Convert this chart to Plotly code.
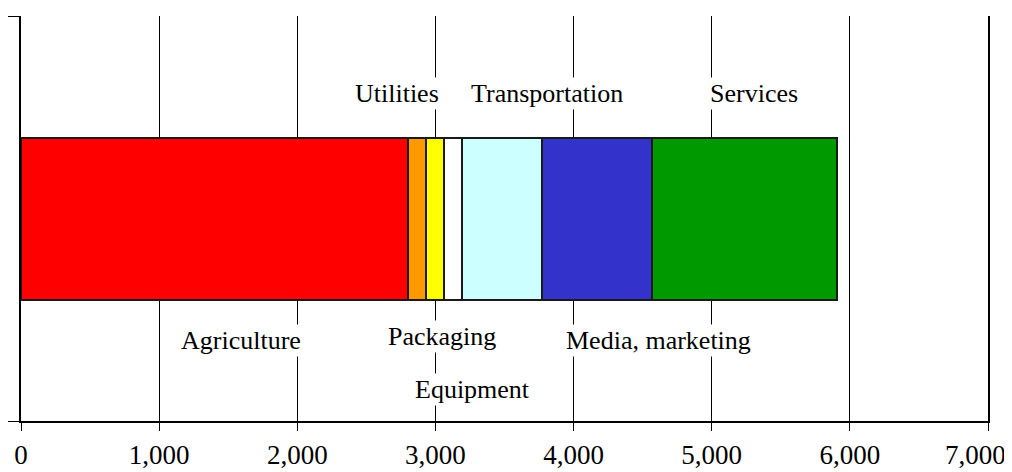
import plotly.graph_objects as go

# segment sizes of the single stacked bar
sectors = ["Agriculture", "Utilities", "Packaging", "Equipment",
           "Transportation", "Media, marketing", "Services"]
values = [2800, 130, 130, 130, 580, 795, 1345]
colors = ["#FF0000", "#FF9900", "#FFFF00", "#FFFFFF",
          "#CCFFFF", "#3333CC", "#009900"]

tick_vals = [0, 1000, 2000, 3000, 4000, 5000, 6000, 7000]
tick_text = ["0", "1,000", "2,000", "3,000", "4,000", "5,000", "6,000", ""]

# label placement (data x, paper y)
label_pos = {
    "Agriculture": (1590, 0.200),
    "Utilities": (2725, 0.809),
    "Packaging": (3050, 0.209),
    "Equipment": (3270, 0.079),
    "Transportation": (3805, 0.809),
    "Media, marketing": (4615, 0.200),
    "Services": (5305, 0.809),
}

FONT = "Liberation Serif"

fig = go.Figure()
for name, v, c in zip(sectors, values, colors):
    fig.add_trace(go.Bar(
        x=[v], y=[0.5], width=0.4, orientation="h", name=name,
        marker=dict(color=c, line=dict(color="#1a1a1a", width=2)),
    ))

for name in sectors:
    lx, ly = label_pos[name]
    fig.add_annotation(
        x=lx, y=ly, xref="x", yref="paper", text=name, showarrow=False,
        xanchor="center", yanchor="middle",
        bgcolor="white", font=dict(family=FONT, size=26, color="black"),
    )

# last tick label sits pulled in from the right edge
fig.add_annotation(
    x=1.0207, y=0, xref="paper", yref="paper", xanchor="right", yanchor="top",
    yshift=-17, text="7,000", showarrow=False,
    font=dict(family=FONT, size=27, color="black"),
)

# page body adds an 8px offset, so the figure is 8px smaller
fig.update_layout(
    width=1004, height=464,
    barmode="stack",
    showlegend=False,
    plot_bgcolor="white", paper_bgcolor="white",
    margin=dict(l=13, r=24, t=8, b=51),
    font=dict(family=FONT, size=27, color="black"),
)
fig.update_xaxes(
    range=[0, 7000], tickvals=tick_vals, ticktext=tick_text,
    showgrid=True, gridcolor="black", gridwidth=1,
    showline=True, linecolor="black", linewidth=1.5,
    ticks="outside", ticklen=8, tickcolor="black",
    zeroline=False, ticklabelstandoff=1, automargin=False,
)
fig.update_yaxes(
    range=[0, 1], tickvals=[0, 1], ticktext=["", ""],
    showgrid=False, zeroline=False,
    showline=True, linecolor="black", linewidth=1.5, mirror=True,
    ticks="outside", ticklen=11, tickcolor="black", automargin=False,
)

fig.write_html("out.html")
